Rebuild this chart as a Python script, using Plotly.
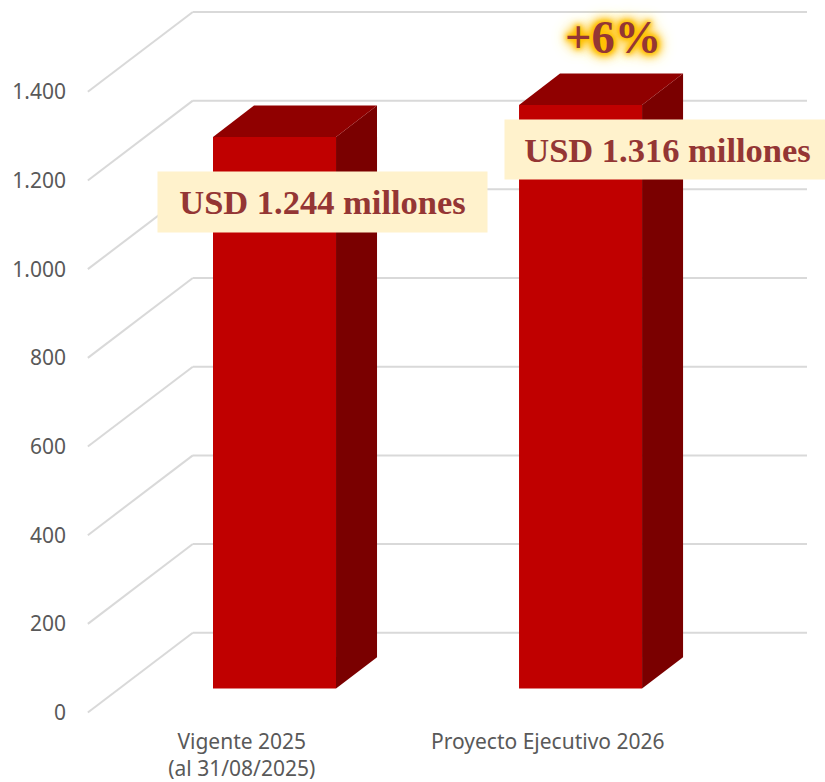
import plotly.graph_objects as go

categories = ["Vigente 2025<br>(al 31/08/2025)", "Proyecto Ejecutivo 2026"]
values = [1244, 1316]
value_labels = ["USD 1.244 millones", "USD 1.316 millones"]
y_ticks = [0, 200, 400, 600, 800, 1000, 1200, 1400]
y_tick_labels = ["0", "200", "400", "600", "800", "1.000", "1.200", "1.400"]
change_label = "+6%"

positions = [0, 1]
bar_width = 0.402
floor_lift = 54          # bars stand forward-of-back on the 3D floor
depth_x, depth_y = 0.134, 71
wall_x, wall_y = 0.343, 180
x_min, x_max = -0.616, 1.74
y_min, y_max = -10, 1607

FRONT, TOP, SIDE = "#C00000", "#900000", "#7A0000"
GRID = "#D9D9D9"
TEXT = "#595959"
LABEL = "#943634"
BOX = "#FFF2CC"
SERIF = "Liberation Serif"
SANS = "Noto Sans"

fig = go.Figure()
fig.add_trace(go.Bar(x=positions, y=values, base=floor_lift, width=bar_width,
                     marker=dict(color=FRONT, line=dict(width=0)), showlegend=False))

for c, v in zip(positions, values):
    left, right = c - bar_width / 2, c + bar_width / 2
    top = floor_lift + v
    fig.add_trace(go.Scatter(
        x=[right, right + depth_x, right + depth_x, right, right],
        y=[floor_lift, floor_lift + depth_y, top + depth_y, top, floor_lift],
        mode="lines", fill="toself", fillcolor=SIDE, line=dict(width=0), showlegend=False))
    fig.add_trace(go.Scatter(
        x=[left, left + depth_x, right + depth_x, right, left],
        y=[top, top + depth_y, top + depth_y, top, top],
        mode="lines", fill="toself", fillcolor=TOP, line=dict(width=0), showlegend=False))

shapes = []
for t in y_ticks:
    line = dict(color=GRID, width=2)
    shapes.append(dict(type="line", layer="below", xref="x", yref="y",
                       x0=x_min + 0.006, y0=t, x1=x_min + 0.006 + wall_x, y1=t + wall_y, line=line))
    shapes.append(dict(type="line", layer="below", xref="x", yref="y",
                       x0=x_min + 0.006 + wall_x, y0=t + wall_y, x1=x_max, y1=t + wall_y, line=line))

annotations = [
    dict(x=0.157, y=values[0] - 92, text=value_labels[0], width=329, height=60),
    dict(x=1.284, y=values[1] - 46, text=value_labels[1], width=325, height=59),
]
for a in annotations:
    a.update(xref="x", yref="y", showarrow=False, bgcolor=BOX, borderpad=0,
             font=dict(family=SERIF, size=34.5, color=LABEL, weight="bold"))
annotations.append(dict(
    x=1.105, y=1522, xref="x", yref="y", text=change_label, showarrow=False,
    font=dict(family=SERIF, size=46.5, color=LABEL, weight="bold",
              shadow="0 0 4px #FFC000, 0 0 5px #FFC000, 0 0 7px #FFC000, 0 0 9px #FFC000, "
                     "0 0 11px #FFC000, 0 0 13px #FFC000, 0 0 16px #FFD050, 0 0 20px #FFE080")))

fig.update_layout(
    width=825, height=782, margin=dict(l=86, r=18, t=0, b=65, pad=0),
    paper_bgcolor="white", plot_bgcolor="white", shapes=shapes, annotations=annotations,
    showlegend=False, barmode="overlay",
    xaxis=dict(range=[x_min, x_max], showgrid=False, zeroline=False, showline=False, automargin=False,
               tickvals=[p - 0.107 for p in positions], ticktext=categories, ticks="",
               ticklabelstandoff=10, tickfont=dict(family=SANS, size=21, color=TEXT)),
    yaxis=dict(range=[y_min, y_max], showgrid=False, zeroline=False, showline=False, automargin=False,
               tickvals=y_ticks, ticktext=y_tick_labels, ticks="",
               ticklabelstandoff=19, tickfont=dict(family=SANS, size=21, color=TEXT)),
)
fig.write_html("out.html", post_script="document.body.style.margin='0';", config={"displayModeBar": False})
